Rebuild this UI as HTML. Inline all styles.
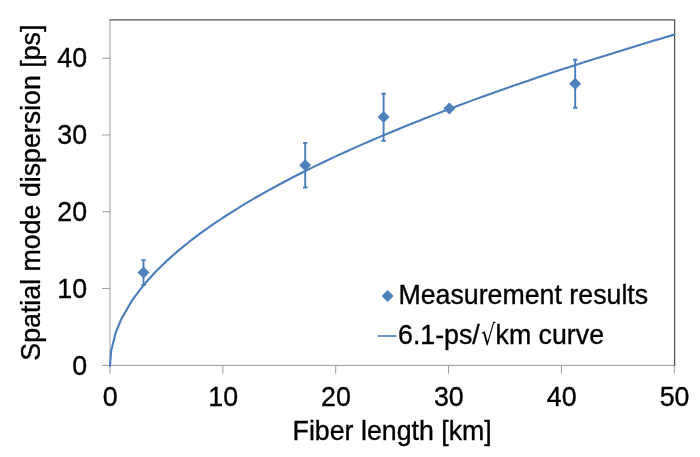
<!DOCTYPE html><html><head><meta charset="utf-8"><title>Spatial mode dispersion</title>
<style>html,body{margin:0;padding:0;background:#fff;}svg{display:block;}text{font-family:"Liberation Sans",Arial,sans-serif;fill:#000;stroke:#000;stroke-width:0.35px;stroke-linejoin:round;}</style></head><body>
<svg width="700" height="457" viewBox="0 0 700 457">
<rect width="700" height="457" fill="#fff"/>
<line x1="110.0" y1="19.8" x2="110.0" y2="373.7" stroke="#9a9a9a" stroke-width="1"/>
<line x1="102.0" y1="365.4" x2="674.25" y2="365.4" stroke="#9a9a9a" stroke-width="1"/>
<polyline points="109.5,19.8 674.65,19.8 674.65,365.9" fill="none" stroke="#4d4d4d" stroke-width="1.2"/>
<line x1="102.0" y1="288.60" x2="110.0" y2="288.60" stroke="#9a9a9a" stroke-width="1"/>
<line x1="102.0" y1="211.80" x2="110.0" y2="211.80" stroke="#9a9a9a" stroke-width="1"/>
<line x1="102.0" y1="135.00" x2="110.0" y2="135.00" stroke="#9a9a9a" stroke-width="1"/>
<line x1="102.0" y1="58.20" x2="110.0" y2="58.20" stroke="#9a9a9a" stroke-width="1"/>
<line x1="222.85" y1="365.4" x2="222.85" y2="373.7" stroke="#9a9a9a" stroke-width="1"/>
<line x1="335.70" y1="365.4" x2="335.70" y2="373.7" stroke="#9a9a9a" stroke-width="1"/>
<line x1="448.55" y1="365.4" x2="448.55" y2="373.7" stroke="#9a9a9a" stroke-width="1"/>
<line x1="561.40" y1="365.4" x2="561.40" y2="373.7" stroke="#9a9a9a" stroke-width="1"/>
<line x1="674.25" y1="365.4" x2="674.25" y2="373.7" stroke="#9a9a9a" stroke-width="1"/>
<text x="87.10" y="374.50" font-size="26.75" text-anchor="end">0</text>
<text x="87.10" y="297.70" font-size="26.75" text-anchor="end">10</text>
<text x="87.10" y="220.90" font-size="26.75" text-anchor="end">20</text>
<text x="87.10" y="144.10" font-size="26.75" text-anchor="end">30</text>
<text x="87.10" y="67.30" font-size="26.75" text-anchor="end">40</text>
<text x="110.30" y="405.5" font-size="26.75" text-anchor="middle">0</text>
<text x="223.15" y="405.5" font-size="26.75" text-anchor="middle">10</text>
<text x="336.00" y="405.5" font-size="26.75" text-anchor="middle">20</text>
<text x="448.85" y="405.5" font-size="26.75" text-anchor="middle">30</text>
<text x="561.70" y="405.5" font-size="26.75" text-anchor="middle">40</text>
<text x="674.55" y="405.5" font-size="26.75" text-anchor="middle">50</text>
<text x="392.2" y="439.7" font-size="26.75" text-anchor="middle">Fiber length [km]</text>
<text transform="translate(40.2,192.65) rotate(-90)" font-size="26.75" text-anchor="middle">Spatial mode dispersion [ps]</text>
<polyline points="110.00,365.90 111.13,351.09 115.64,332.77 121.28,319.05 132.57,299.65 143.86,284.76 155.14,272.20 166.43,261.14 177.71,251.15 189.00,241.95 200.28,233.39 211.56,225.36 222.85,217.75 234.13,210.52 245.42,203.61 256.71,196.99 267.99,190.61 279.27,184.46 290.56,178.51 301.85,172.74 313.13,167.14 324.41,161.69 335.70,156.39 346.99,151.22 358.27,146.16 369.56,141.22 380.84,136.39 392.12,131.66 403.41,127.02 414.69,122.47 425.98,118.00 437.26,113.62 448.55,109.30 459.83,105.06 471.12,100.89 482.41,96.78 493.69,92.73 504.98,88.74 516.26,84.81 527.55,80.93 538.83,77.11 550.12,73.33 561.40,69.61 572.68,65.93 583.97,62.29 595.25,58.70 606.54,55.15 617.83,51.63 629.11,48.16 640.39,44.73 651.68,41.33 662.97,37.96 674.25,34.63" fill="none" stroke="#4a7ebb" stroke-width="2.1" stroke-linejoin="round" stroke-linecap="round"/>
<path d="M143.5,260.1 V285.0 M141.3,260.1 H145.7 M141.3,285.0 H145.7" stroke="#4a7ebb" stroke-width="1.9" fill="none"/>
<path d="M143.5,266.6 L149.5,272.6 L143.5,278.6 L137.5,272.6 Z" fill="#4f81bd"/>
<path d="M305.2,142.9 V187.5 M303.0,142.9 H307.4 M303.0,187.5 H307.4" stroke="#4a7ebb" stroke-width="1.9" fill="none"/>
<path d="M305.2,159.2 L311.2,165.2 L305.2,171.2 L299.2,165.2 Z" fill="#4f81bd"/>
<path d="M383.6,93.7 V140.9 M381.40000000000003,93.7 H385.8 M381.40000000000003,140.9 H385.8" stroke="#4a7ebb" stroke-width="1.9" fill="none"/>
<path d="M383.6,111.0 L389.6,117.0 L383.6,123.0 L377.6,117.0 Z" fill="#4f81bd"/>
<path d="M449.3,102.4 L455.3,108.4 L449.3,114.4 L443.3,108.4 Z" fill="#4f81bd"/>
<path d="M575.2,59.7 V107.7 M573.0,59.7 H577.4000000000001 M573.0,107.7 H577.4000000000001" stroke="#4a7ebb" stroke-width="1.9" fill="none"/>
<path d="M575.2,77.7 L581.2,83.7 L575.2,89.7 L569.2,83.7 Z" fill="#4f81bd"/>
<path d="M387.6,290 l6,6 l-6,6 l-6,-6 Z" fill="#4f81bd"/>
<text x="398.4" y="304.4" font-size="26.75">Measurement results</text>
<line x1="377.8" y1="336" x2="396.5" y2="336" stroke="#4a7ebb" stroke-width="1.6"/>
<text x="398" y="344.4" font-size="26.75">6.1-ps/</text>
<text transform="translate(481.0,344.6) scale(0.78,1)" font-family="DejaVu Sans, sans-serif" font-size="28.8" style="font-family:'DejaVu Sans',sans-serif;stroke-width:0">√</text>
<text x="495.5" y="344.4" font-size="26.75">km curve</text>
</svg></body></html>
